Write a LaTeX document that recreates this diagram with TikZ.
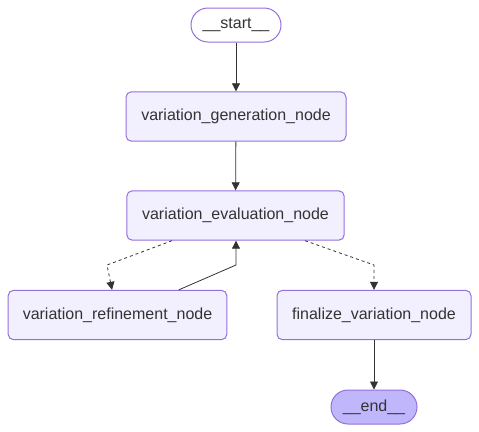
\documentclass[tikz,border=0pt]{standalone}
\usepackage{fontspec}
\setmainfont{Liberation Sans}
\usetikzlibrary{arrows.meta,positioning}
\definecolor{nodefill}{HTML}{F2F0FF}
\definecolor{nodeline}{HTML}{9370DB}
\definecolor{endfill}{HTML}{BFB6FC}
\definecolor{edgeline}{HTML}{333333}
\tikzset{
  box/.style={draw=nodeline, fill=nodefill, line width=0.75pt, rounded corners=4pt,
    minimum height=37pt, minimum width=#1, inner sep=0pt, text=edgeline,
    font=\fontsize{12}{14}\selectfont},
  pill/.style={box=#1, rounded corners=12.7pt, minimum height=25.5pt},
  flow/.style={draw=edgeline, line width=0.6pt, -{Triangle[length=6pt,width=6pt]}},
  cond/.style={flow, dash pattern=on 2.25pt off 2.25pt}
}
\begin{document}
\begin{tikzpicture}[x=0.75pt,y=-0.75pt]
  \useasboundingbox (0,0) rectangle (479,432);
  % nodes
  \node[pill=67.5pt, fill=white] (start) at (236,25) {\_\_start\_\_};
  \node[box=165pt] (gen) at (236,116.5) {variation\_generation\_node};
  \node[box=163pt] (eval) at (235.5,215.5) {variation\_evaluation\_node};
  \node[box=164pt] (refine) at (117.5,315) {variation\_refinement\_node};
  \node[box=145.5pt] (final) at (374,315) {finalize\_variation\_node};
  \node[pill=64.5pt, fill=endfill] (end) at (374,407) {\_\_end\_\_};

  % bends
  \coordinate (lbend) at (107,265);
  \coordinate (mbend) at (236,265);
  \coordinate (rbend) at (374,265);

  % edges
  \draw[flow] (start) -- (gen);
  \draw[flow] (gen) -- (eval);
  \draw[cond] ([xshift=-47.6pt]eval.south) -- (lbend) -- ([xshift=-4.1pt]refine.north);
  \draw[flow] ([xshift=46pt]refine.north) -- (mbend) -- (mbend |- eval.south);
  \draw[cond] ([xshift=52.1pt]eval.south) -- (rbend) -- (final.north);
  \draw[flow] (final) -- (end);
\end{tikzpicture}
\end{document}
